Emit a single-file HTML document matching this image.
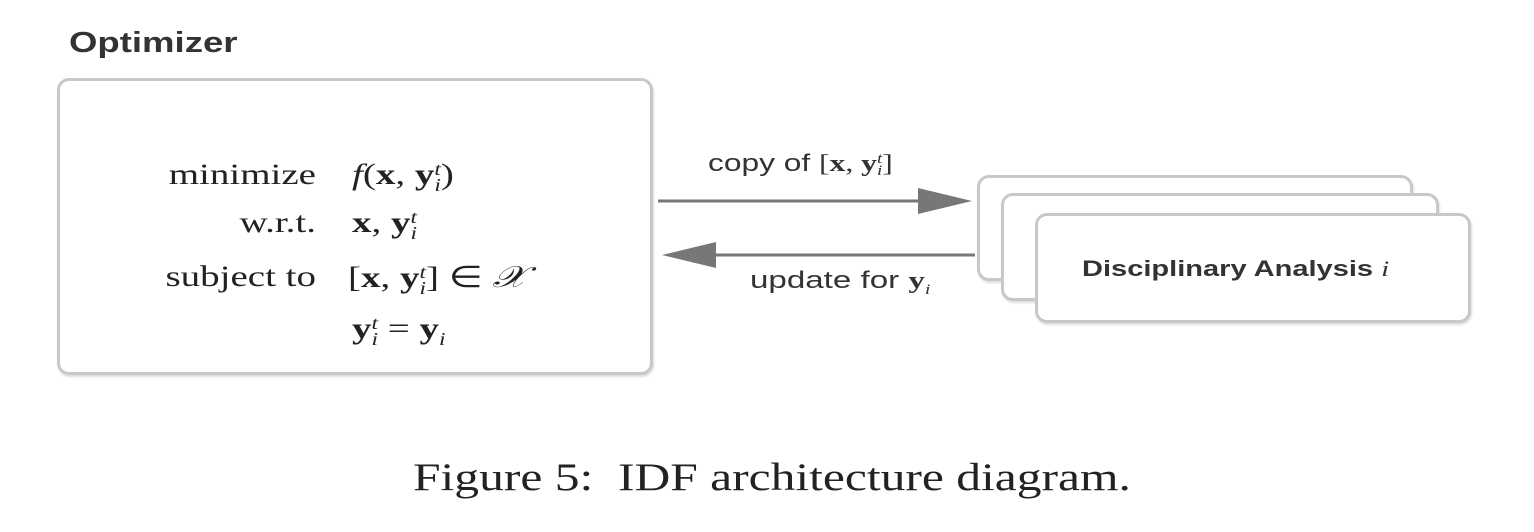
<!DOCTYPE html>
<html><head><style>
body{margin:0;width:1534px;height:532px;background:#fff;position:relative;overflow:hidden;font-family:"Liberation Serif",serif;color:#222}
.a{position:absolute;white-space:nowrap}
.box{position:absolute;border:3px solid #c8c8c8;border-radius:12px;background:#fff;box-shadow:1px 2px 2px #ddd}
.s{font-family:"Liberation Sans",sans-serif}
.r{text-align:right;width:200px;transform:scaleX(1.3);transform-origin:right}
.m{transform:scaleX(1.3);transform-origin:left}
b{font-weight:bold}
sup,sub{font-size:60%}
.ss{display:inline-block;vertical-align:middle;line-height:0.9;font-size:60%;text-align:left}
</style></head><body>
<div class="a s" style="left:69px;top:27px;font-size:29px;font-weight:bold;color:#333;transform:scaleX(1.26);transform-origin:left">Optimizer</div>
<div class="box" style="left:57px;top:78px;width:590px;height:291px"></div>
<div class="a r" style="left:116px;top:158px;font-size:30px">minimize</div>
<div class="a r" style="left:116px;top:206px;font-size:30px">w.r.t.</div>
<div class="a r" style="left:116px;top:260px;font-size:30px">subject to</div>
<div class="a m" style="left:352px;top:158px;font-size:30px"><i>f</i>(<b>x</b>, <b>y</b><span class="ss"><i>t</i><br><i>i</i></span>)</div>
<div class="a m" style="left:352px;top:206px;font-size:30px"><b>x</b>, <b>y</b><span class="ss"><i>t</i><br><i>i</i></span></div>
<div class="a m" style="left:348px;top:260px;font-size:30px">[<b>x</b>, <b>y</b><span class="ss"><i>t</i><br><i>i</i></span>] ∈ <i>𝒳</i></div>
<div class="a m" style="left:352px;top:312px;font-size:30px"><b>y</b><span class="ss"><i>t</i><br><i>i</i></span> = <b>y</b><sub><i>i</i></sub></div>

<svg class="a" style="left:0;top:0" width="1534" height="532">
<line x1="658" y1="201" x2="935" y2="201" stroke="#777" stroke-width="3"/>
<polygon points="918,188 972,201 918,214" fill="#777"/>
<line x1="975" y1="255" x2="700" y2="255" stroke="#777" stroke-width="3"/>
<polygon points="716,242 662,255 716,268" fill="#777"/>
</svg>
<div class="a s" style="left:708px;top:150px;font-size:24px;color:#333;transform:scaleX(1.32);transform-origin:left">copy of <span style="font-family:'Liberation Serif',serif">[<b>x</b>, <b>y</b><span class="ss"><i>t</i><br><i>i</i></span>]</span></div>
<div class="a s" style="left:750px;top:267px;font-size:24px;color:#333;transform:scaleX(1.38);transform-origin:left">update for <span style="font-family:'Liberation Serif',serif"><b>y</b><sub><i>i</i></sub></span></div>

<div class="box" style="left:977px;top:175px;width:430px;height:100px"></div>
<div class="box" style="left:1001px;top:193px;width:432px;height:102px"></div>
<div class="box" style="left:1035px;top:213px;width:430px;height:104px"></div>
<div class="a s" style="left:1082px;top:256px;font-size:22px;font-weight:bold;color:#333;transform:scaleX(1.32);transform-origin:left">Disciplinary Analysis <i style="font-family:'Liberation Serif',serif;font-weight:normal">i</i></div>

<div class="a" style="left:413px;top:455px;font-size:39px;color:#222;transform:scaleX(1.27);transform-origin:left">Figure 5:&nbsp;&nbsp;IDF architecture diagram.</div>
</body></html>
